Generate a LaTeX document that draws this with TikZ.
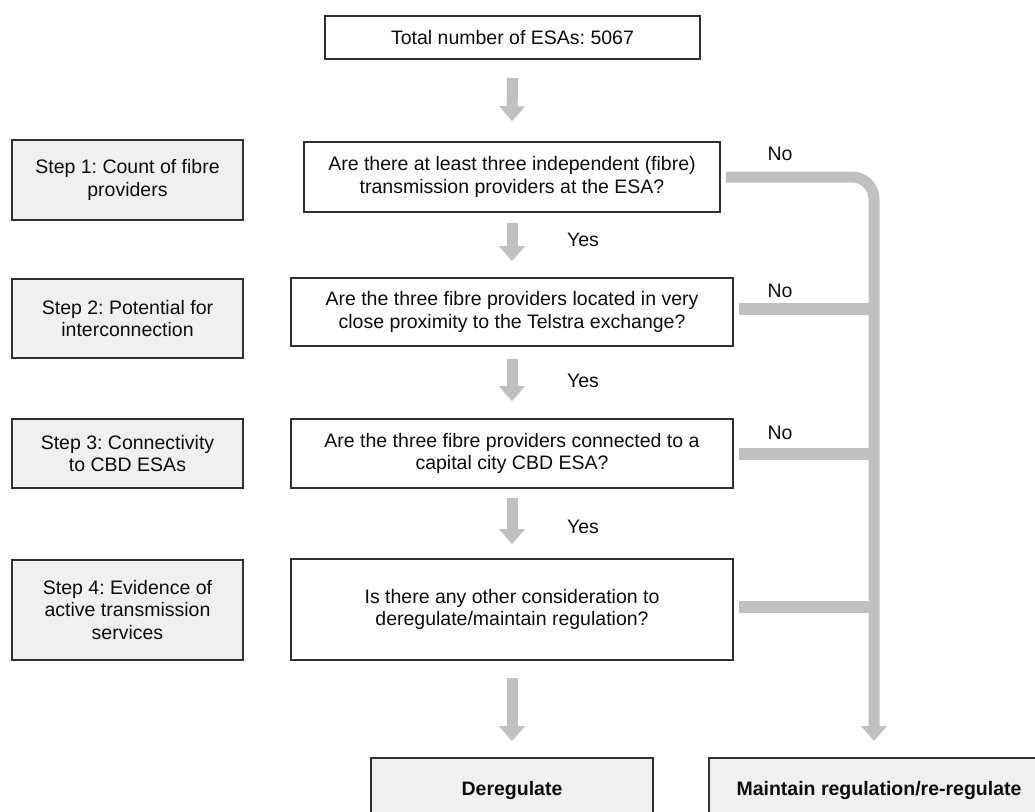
\documentclass[tikz,border=0pt]{standalone}
\usepackage{fontspec}
\setmainfont{Liberation Sans}
\usetikzlibrary{arrows.meta,calc}
\definecolor{arrowgray}{HTML}{C0C0C0}
\definecolor{stepfill}{HTML}{F0F0F0}
\definecolor{boxline}{HTML}{303030}
\frenchspacing
\tikzset{
  base/.style={draw=boxline, line width=1.6pt, align=center, inner sep=2pt,
    font=\fontsize{19.5}{22.5}\selectfont\frenchspacing, text=black!95},
  qbox/.style={base, fill=white},
  stepbox/.style={base, fill=stepfill},
  endbox/.style={base, fill=stepfill, font=\fontsize{19.5}{22.5}\selectfont\bfseries},
  lbl/.style={font=\fontsize{19.5}{22.5}\selectfont, text=black!95, inner sep=0pt},
  garrow/.style={draw=arrowgray, line width=11pt,
    -{Triangle[length=15pt,width=25pt]}},
  gline/.style={draw=arrowgray, line width=12pt}
}
\begin{document}
\begin{tikzpicture}[x=1pt,y=-1pt]
\useasboundingbox (0,0) rectangle (1035,811);
\clip (0,0) rectangle (1035,811);

% question column
\node[qbox, minimum width=375pt, minimum height=43pt] (top) at (512.5,37.5) {Total number of ESAs: 5067};
\node[qbox, minimum width=416pt, minimum height=70pt] (q1) at (512,177) {Are there at least three independent (fibre)\\transmission providers at the ESA?};
\node[qbox, minimum width=442pt, minimum height=68pt] (q2) at (512,312) {Are the three fibre providers located in very\\close proximity to the Telstra exchange?};
\node[qbox, minimum width=442pt, minimum height=69pt] (q3) at (512,453.5) {Are the three fibre providers connected to a\\capital city CBD ESA?};
\node[qbox, minimum width=442pt, minimum height=101pt] (q4) at (512,609.5) {Is there any other consideration to\\deregulate/maintain regulation?};

% step column
\node[stepbox, minimum width=231pt, minimum height=80pt] (s1) at (127.5,180) {Step 1: Count of fibre\\providers};
\node[stepbox, minimum width=231pt, minimum height=79pt] (s2) at (127.5,318.5) {Step 2: Potential for\\interconnection};
\node[stepbox, minimum width=231pt, minimum height=69pt] (s3) at (127.5,453.5) {Step 3: Connectivity\\to CBD ESAs};
\node[stepbox, minimum width=231pt, minimum height=100pt] (s4) at (127.5,610) {Step 4: Evidence of\\active transmission\\services};

% outcomes
\node[endbox, minimum width=282pt, minimum height=64pt] (dereg) at (512,790) {Deregulate};
\node[endbox, minimum width=340pt, minimum height=64pt] (maint) at (879,790) {Maintain regulation/re-regulate};

% down arrows
\draw[garrow] ([yshift=-18pt]top.south) -- ([yshift=20pt]q1.north);
\draw[garrow] ([yshift=-10pt]q1.south) -- ([yshift=16pt]q2.north);
\draw[garrow] ([yshift=-12pt]q2.south) -- ([yshift=17pt]q3.north);
\draw[garrow] ([yshift=-9pt]q3.south) -- ([yshift=14pt]q4.north);
\draw[garrow] ([yshift=-17pt]q4.south) -- ([yshift=16pt]dereg.north);

% right trunk
\coordinate (trunkEnd) at (874,741);
\draw[garrow, rounded corners=22pt] ([xshift=5pt]q1.east) -| (trunkEnd);
\draw[gline] ([xshift=5pt]q2.east |- 0,309) -- (trunkEnd |- 0,309);
\draw[gline] ([xshift=5pt]q3.east) -- (q3.east -| trunkEnd);
\draw[gline] ([xshift=5pt]q4.east |- 0,607) -- (trunkEnd |- 0,607);

% labels
\node[lbl] (yes1) at (583,240) {Yes};
\node[lbl] (yes2) at (583,381) {Yes};
\node[lbl] (yes3) at (583,527) {Yes};
\node[lbl] (no1) at (780,154) {No};
\node[lbl] (no2) at (780,291) {No};
\node[lbl] (no3) at (780,433) {No};
\end{tikzpicture}
\end{document}
